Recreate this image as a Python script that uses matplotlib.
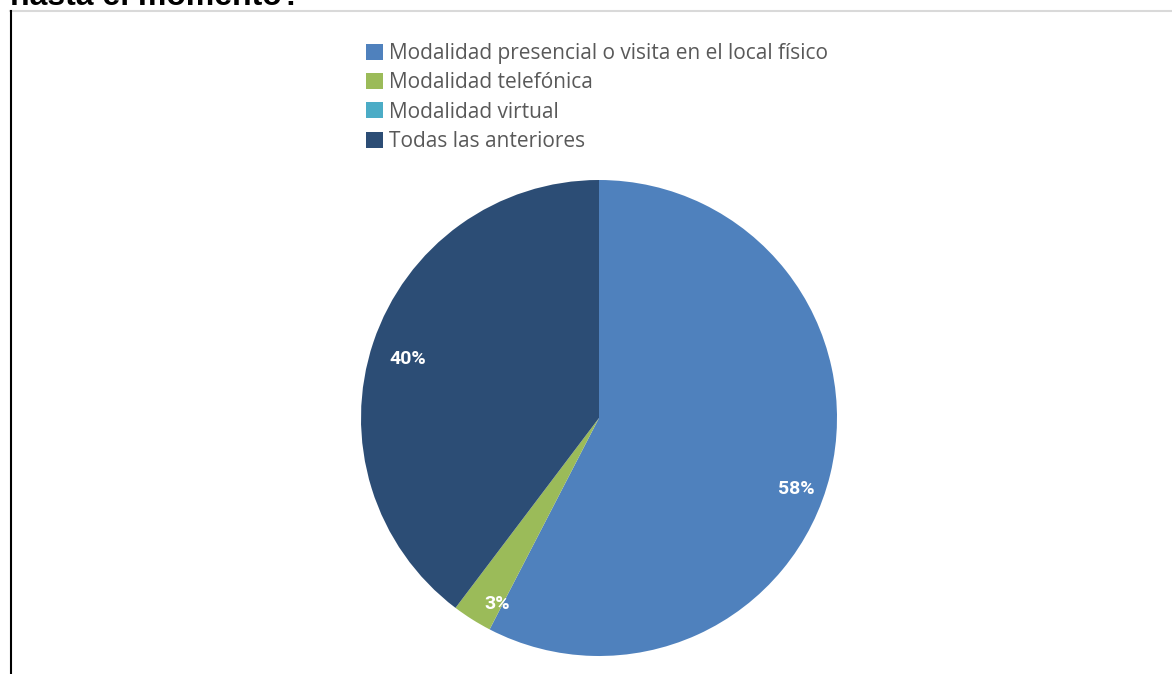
import numpy as np
import matplotlib.pyplot as plt
from matplotlib.lines import Line2D
from matplotlib.patches import Patch

# Share of answers per attention channel (percent)
categories = [
    "Modalidad presencial o visita en el local físico",
    "Modalidad telefónica",
    "Modalidad virtual",
    "Todas las anteriores",
]
shares = [57.6, 2.7, 0.0, 39.7]
colors = ["#4F81BD", "#9BBB59", "#4BACC6", "#2C4D75"]
title_tail = "hasta el momento?"

W, H = 1172, 674
fig = plt.figure(figsize=(W / 100, H / 100), dpi=100)
fig.patch.set_facecolor("white")

# frame lines around the chart area
fig.add_artist(Line2D([10 / W, 1], [1 - 10.5 / H] * 2, color="#d9d9d9", lw=1.5))
fig.add_artist(Line2D([10.5 / W] * 2, [0, 1 - 10.5 / H], color="black", lw=1.5))

# question text, only its lower part is visible at the top edge
fig.text(10 / W, 1 - 5 / H, title_tail, fontsize=23, fontweight="bold",
         family="Liberation Sans", va="baseline", ha="left", color="black")

# pie axes, centre (599, 418) px, radius 238 px
cx, cy, r = 599, 418, 238
ax = fig.add_axes([(cx - r) / W, (H - cy - r) / H, 2 * r / W, 2 * r / H])


def pct_label(p):
    return f"{p:.0f}%" if p > 0.5 else ""


wedges, texts, autotexts = ax.pie(
    shares, colors=colors, startangle=90, counterclock=False,
    autopct=pct_label, pctdistance=0.88, radius=1,
    textprops=dict(color="white", fontsize=14, fontweight="bold",
                   family="Roboto"),
)

# nudge the labels a little along the rim (best-fit style placement)
label_shift = [-6.0, 3.5, 0.0, 1.5]
label_dist = [0.88, 0.89, 0.88, 0.84]
for w, t, d, rd in zip(wedges, autotexts, label_shift, label_dist):
    ang = np.deg2rad((w.theta1 + w.theta2) / 2 + d)
    t.set_position((rd * np.cos(ang), rd * np.sin(ang)))

ax.set_xlim(-1, 1)
ax.set_ylim(-1, 1)
ax.set_aspect("equal")
ax.axis("off")

handles = [Patch(facecolor=c, edgecolor="none") for c in colors]
fig.legend(handles, categories, loc="upper left",
           bbox_to_anchor=(366 / W, 1 - 43 / H), frameon=False,
           prop=dict(family="Open Sans", size=15), labelcolor="#595959",
           handlelength=0.8, handleheight=0.8, handletextpad=0.3,
           labelspacing=0.4, borderaxespad=0, borderpad=0)

fig.savefig("out.png", dpi=100)
